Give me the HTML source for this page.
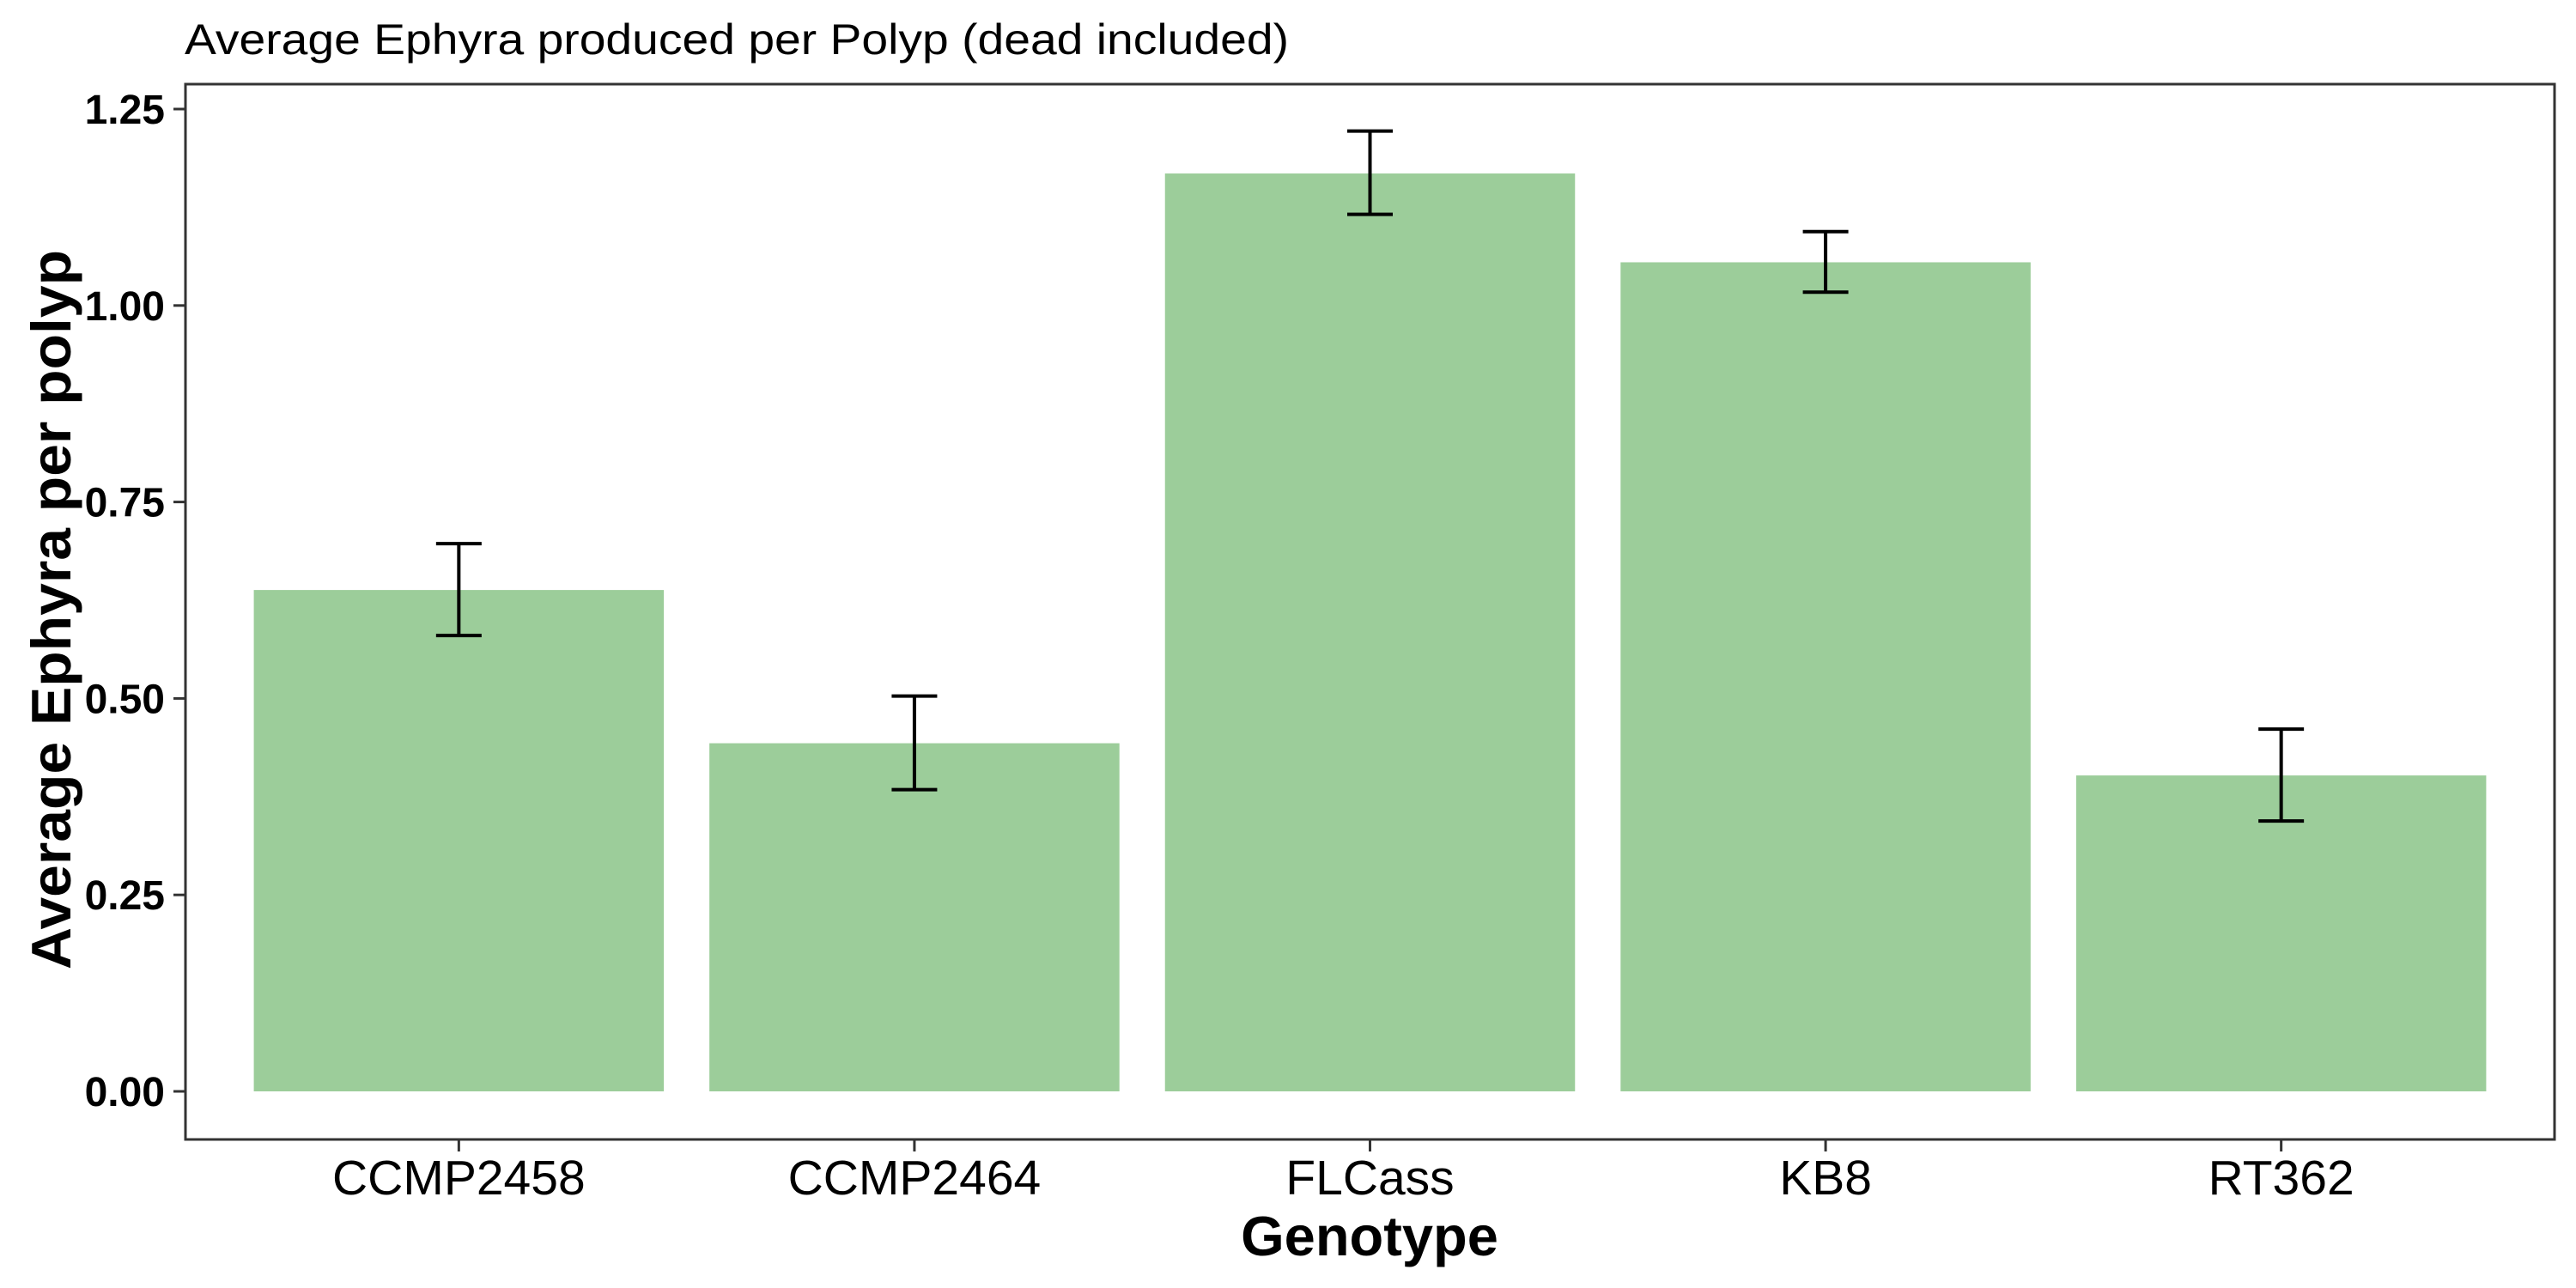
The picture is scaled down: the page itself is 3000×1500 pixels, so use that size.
<!DOCTYPE html>
<html><head><meta charset="utf-8"><style>html,body{margin:0;padding:0;background:#fff}svg{display:block}text{font-family:"Liberation Sans",Arial,sans-serif}</style></head>
<body>
<svg id="chart" width="3000" height="1500" viewBox="0 0 3000 1500" xmlns="http://www.w3.org/2000/svg">
<text x="215" y="63" font-size="50" textLength="1286" lengthAdjust="spacingAndGlyphs">Average Ephyra produced per Polyp (dead included)</text>
<rect x="216" y="98" width="2759" height="1229" fill="none" stroke="#333" stroke-width="3"/>
<g id="bars"></g><g id="errs"></g><g id="yaxis"></g><g id="xaxis"></g>
<text x="1595" y="1462" font-size="65" font-weight="bold" text-anchor="middle">Genotype</text>
<text transform="translate(82,710) rotate(-90)" font-size="65" font-weight="bold" text-anchor="middle" textLength="838" lengthAdjust="spacingAndGlyphs">Average Ephyra per polyp</text>
</svg>
<script>
const categories = ["CCMP2458","CCMP2464","FLCass","KB8","RT362"];
const means = [0.638,0.443,1.168,1.055,0.402];
const errLow = [0.580,0.384,1.116,1.017,0.344];
const errHigh = [0.697,0.503,1.222,1.094,0.461];
const yTicks = [0,0.25,0.5,0.75,1.0,1.25];
const yTickLabels = ["0.00","0.25","0.50","0.75","1.00","1.25"];

const NS="http://www.w3.org/2000/svg";
const pL=216,pW=2759,y0=1271,unit=915.2;
const step=pW/(categories.length+0.2);
function xs(i){return pL+step*(0.6+i);}
function ys(v){return y0-v*unit;}
function mk(t,a,p){const e=document.createElementNS(NS,t);for(const k in a)e.setAttribute(k,a[k]);p.appendChild(e);return e;}
const gb=document.getElementById('bars'),ge=document.getElementById('errs'),gy=document.getElementById('yaxis'),gx=document.getElementById('xaxis');
const bw=step*0.9;
categories.forEach((c,i)=>{
  const r=mk('rect',{x:xs(i)-bw/2,y:ys(means[i]),width:bw,height:ys(0)-ys(means[i]),fill:'#9ccd9a'},gb);
  
  
  const g=mk('g',{stroke:'#000','stroke-width':4,fill:'none'},ge);
  
  
  mk('line',{x1:xs(i),x2:xs(i),y1:ys(errLow[i]),y2:ys(errHigh[i])},g);
  mk('line',{x1:xs(i)-26.5,x2:xs(i)+26.5,y1:ys(errLow[i]),y2:ys(errLow[i])},g);
  mk('line',{x1:xs(i)-26.5,x2:xs(i)+26.5,y1:ys(errHigh[i]),y2:ys(errHigh[i])},g);
  const t=mk('line',{x1:xs(i),x2:xs(i),y1:1327,y2:1341,stroke:'#333','stroke-width':3},gx);
  
  
  const l=mk('text',{x:xs(i),y:1391,'font-size':57,'text-anchor':'middle'},gx);
  l.textContent=c;
  
  
});
yTicks.forEach((v,i)=>{
  const t=mk('line',{x1:202,x2:216,y1:ys(v),y2:ys(v),stroke:'#333','stroke-width':3},gy);
  
  
  const l=mk('text',{x:192,y:ys(v)+17,'font-size':48,'font-weight':'bold','text-anchor':'end'},gy);
  l.textContent=yTickLabels[i];
  
  
});
</script>
</body></html>
